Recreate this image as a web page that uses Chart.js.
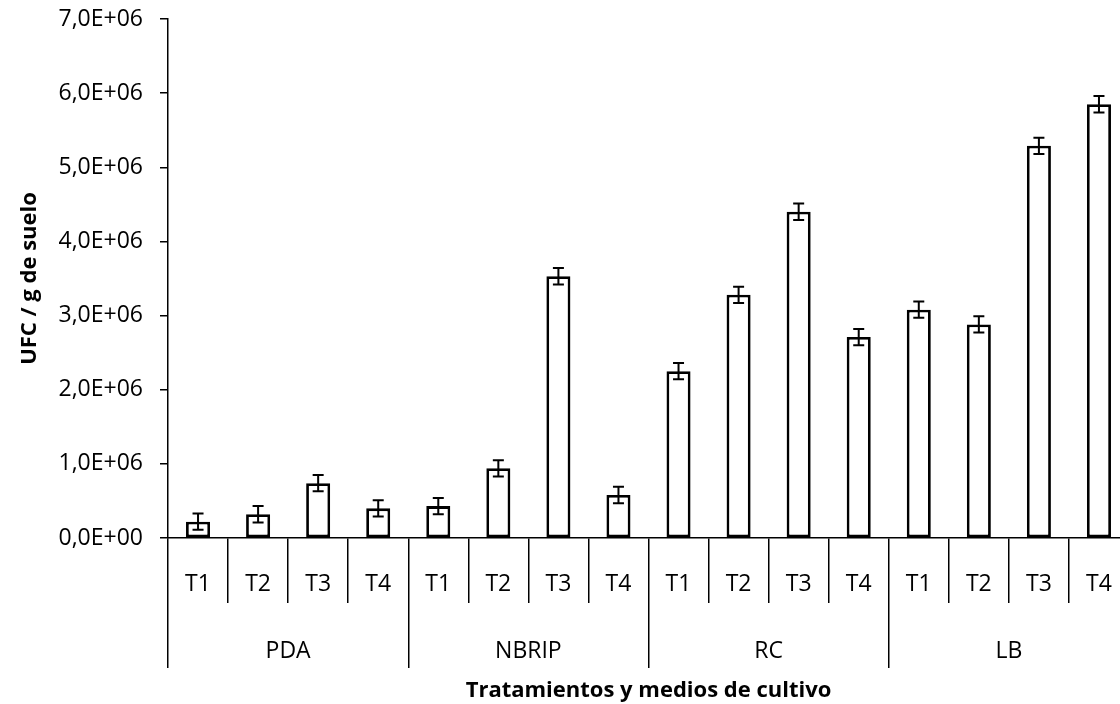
<!DOCTYPE html>
<html>
<head>
<meta charset="utf-8">
<script src="https://cdn.jsdelivr.net/npm/chart.js@4.4.0/dist/chart.umd.min.js"></script>
<style>
  html, body { margin: 0; padding: 0; background: #fff; overflow: hidden; }
  #wrap { width: 1120px; height: 704px; overflow: hidden; }
  canvas { display: block; }
</style>
</head>
<body>
<div id="wrap"><canvas id="c" width="1129" height="704"></canvas></div>
<script>
// ---- data ----
const groups = ["PDA", "NBRIP", "RC", "LB"];
const treatments = ["T1", "T2", "T3", "T4"];
const ufcValues = [
  220000, 320000, 740000, 400000,
  430000, 940000, 3530000, 580000,
  2250000, 3280000, 4400000, 2710000,
  3080000, 2880000, 5290000, 5850000
];
const ufcErrors = [
  110000, 110000, 110000, 110000,
  110000, 110000, 110000, 110000,
  110000, 110000, 110000, 110000,
  110000, 110000, 110000, 110000
];
const yTicks = [0, 1000000, 2000000, 3000000, 4000000, 5000000, 6000000, 7000000];

const xLabels = [];
groups.forEach(() => treatments.forEach(t => xLabels.push(t)));

function sci(v) {
  if (v === 0) return "0,0E+00";
  const e = Math.floor(Math.log10(Math.abs(v)));
  const m = v / Math.pow(10, e);
  const es = (e < 0 ? "-" : "+") + String(Math.abs(e)).padStart(2, "0");
  return m.toFixed(1).replace(".", ",") + "E" + es;
}

const FONT = "'Open Sans', 'Noto Sans', sans-serif";

const errorBars = {
  id: "errorBars",
  afterDatasetsDraw(chart) {
    const ctx = chart.ctx;
    const y = chart.scales.y;
    const meta = chart.getDatasetMeta(0);
    ctx.save();
    ctx.strokeStyle = "#000";
    ctx.lineWidth = 2;
    meta.data.forEach((bar, i) => {
      const v = ufcValues[i], e = ufcErrors[i];
      const yt = y.getPixelForValue(v + e);
      const yb = y.getPixelForValue(v - e);
      const x = bar.x;
      ctx.beginPath();
      ctx.moveTo(x, yt); ctx.lineTo(x, yb);
      ctx.moveTo(x - 5.5, yt); ctx.lineTo(x + 5.5, yt);
      ctx.moveTo(x - 5.5, yb); ctx.lineTo(x + 5.5, yb);
      ctx.stroke();
    });
    ctx.restore();
  }
};

new Chart(document.getElementById("c"), {
  type: "bar",
  data: {
    labels: xLabels,
    datasets: [{
      data: ufcValues,
      backgroundColor: "#ffffff",
      borderColor: "#000000",
      borderWidth: 2.8,
      borderSkipped: false,
      barPercentage: 0.4,
      categoryPercentage: 1.0,
      xAxisID: "x",
      yAxisID: "y"
    }]
  },
  options: {
    responsive: false,
    animation: false,
    events: [],
    layout: { padding: { top: 19, right: 0, bottom: 0, left: 0 } },
    plugins: { legend: { display: false }, tooltip: { enabled: false } },
    scales: {
      y: {
        min: 0, max: 7000000,
        afterBuildTicks: (s) => { s.ticks = yTicks.map(v => ({ value: v })); },
        afterFit: (s) => { s.width = 168; s.paddingTop = 0; s.paddingBottom = 0; },
        border: { color: "#000", width: 1.5 },
        grid: { drawOnChartArea: false, drawTicks: true, tickLength: 8, color: "#000", lineWidth: 1.5 },
        ticks: {
          color: "#000",
          font: { family: FONT, size: 23 },
          padding: 17,
          callback: (v) => sci(v)
        },
        title: {
          display: true,
          text: "UFC / g de suelo",
          color: "#000",
          font: { family: FONT, size: 22, weight: "bold" },
          padding: { top: 17, bottom: 0 }
        }
      },
      x: {
        type: "category",
        position: "bottom",
        weight: 0,
        offset: true,
        afterFit: (s) => { s.height = 65; s.paddingLeft = 0; s.paddingRight = 0; },
        border: { color: "#000", width: 1.5 },
        grid: { offset: true, drawOnChartArea: false, drawTicks: true, tickLength: 65, color: "#000", lineWidth: 1.5 },
        ticks: {
          color: "#000",
          font: { family: FONT, size: 23 },
          padding: -32,
          autoSkip: false,
          maxRotation: 0
        }
      },
      x2: {
        type: "category",
        labels: groups,
        position: "bottom",
        weight: 1,
        offset: true,
        afterFit: (s) => { s.height = 101; s.paddingLeft = 0; s.paddingRight = 0; },
        border: { display: false },
        grid: { offset: true, drawOnChartArea: false, drawTicks: true, tickLength: 65, color: "#000", lineWidth: 1.5 },
        ticks: {
          color: "#000",
          font: { family: FONT, size: 23 },
          padding: -30,
          autoSkip: false,
          maxRotation: 0
        },
        title: {
          display: true,
          text: "Tratamientos y medios de cultivo",
          color: "#000",
          font: { family: FONT, size: 22, weight: "bold" },
          padding: { top: 0, bottom: 0 }
        }
      }
    }
  },
  plugins: [errorBars]
});
</script>
</body>
</html>
